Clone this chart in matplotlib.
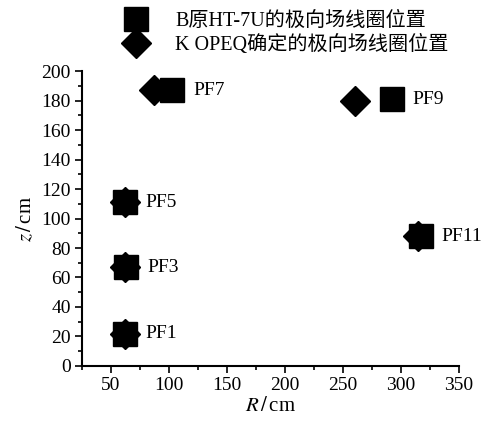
import matplotlib
matplotlib.use('Agg')
import matplotlib.pyplot as plt
from matplotlib.ticker import MultipleLocator

plt.rcParams['font.family'] = ['Liberation Serif', 'Noto Sans CJK SC']
plt.rcParams['mathtext.fontset'] = 'stix'

# Coil positions (R, z) in cm
labels = ['PF1', 'PF3', 'PF5', 'PF7', 'PF9', 'PF11']
r_ht7u = [62, 63, 62, 103, 292, 317]
z_ht7u = [22, 67, 111, 187, 181, 88]
r_opeq = [62, 62, 62, 87, 260, 315]
z_opeq = [22, 67, 111, 187, 180, 88]

fig = plt.figure(figsize=(4.94, 4.26), dpi=100)
ax = fig.add_axes([0.166, 0.141, 0.763, 0.692])

h2, = ax.plot(r_opeq, z_opeq, 'D', color='black', markersize=15, linestyle='none')
h1, = ax.plot(r_ht7u, z_ht7u, 's', color='black', markersize=17, linestyle='none')

for lab, r, z in zip(labels, r_ht7u, z_ht7u):
    ax.annotate(lab, (r, z), xytext=(15, 0), textcoords='offset points',
                ha='left', va='center', fontsize=14)

ax.set_xlim(25, 350)
ax.set_ylim(0, 200)
ax.xaxis.set_major_locator(MultipleLocator(50))
ax.xaxis.set_minor_locator(MultipleLocator(25))
ax.yaxis.set_major_locator(MultipleLocator(20))
ax.yaxis.set_minor_locator(MultipleLocator(10))
ax.set_xticks(range(50, 351, 50))
ax.tick_params(which='both', direction='out', labelsize=14, width=1.2)
ax.tick_params(which='major', length=5, pad=3)
ax.tick_params(which='minor', length=3)
for s in ['top', 'right']:
    ax.spines[s].set_visible(False)
for s in ['left', 'bottom']:
    ax.spines[s].set_linewidth(1.5)

ax.set_xlabel(r'$R\,/\,$cm', fontsize=15, labelpad=2)
ax.set_ylabel(r'$z\,/\,$cm', fontsize=15, labelpad=4)

fig.legend([h1, h2], ['B原HT-7U的极向场线圈位置', 'K OPEQ确定的极向场线圈位置'],
           loc='upper left', bbox_to_anchor=(0.208, 1.015), frameon=False,
           fontsize=14.5, handletextpad=1.2, labelspacing=0.2, markerscale=1.0,
           handlelength=1.5)

fig.savefig('out.png', dpi=100)
